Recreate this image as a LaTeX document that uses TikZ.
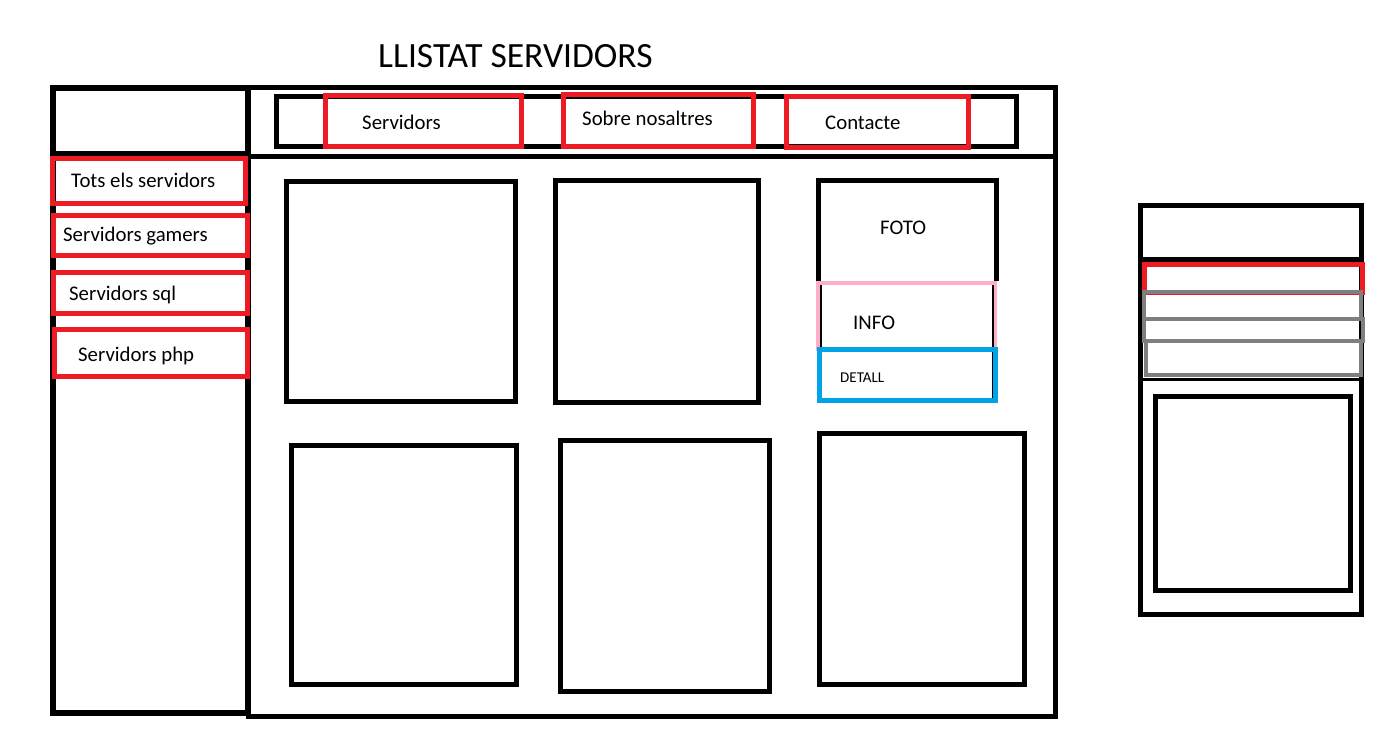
\documentclass[tikz,border=0pt]{standalone}
\usepackage{fontspec}
\setmainfont{Carlito}
\usetikzlibrary{positioning}
\definecolor{paintred}{HTML}{ED1C24}
\definecolor{paintpink}{HTML}{FFAEC9}
\definecolor{paintblue}{HTML}{00A2E8}
\definecolor{paintgray}{HTML}{7F7F7F}
\tikzset{
    frame/.style={draw=black, line width=5pt},
    redbox/.style={draw=paintred, line width=5pt},
    graybox/.style={draw=paintgray, line width=4.5pt},
    label/.style={
        inner sep=0pt,
        anchor=base west,
        font=\fontsize{20.8}{25}\selectfont
    }
}
\begin{document}
\begin{tikzpicture}[x=1pt, y=-1pt,
            big label/.style={label, font=\fontsize{35.5}{42}\selectfont},
            small label/.style={label, font=\fontsize{15}{18}\selectfont}]
                \useasboundingbox (0,0) rectangle (1399,749);
                \fill[white] (0,0) rectangle (1399,749);

                \node[big label] (title) at (378,68) {LLISTAT SERVIDORS};

                % main page
                \draw[frame] (248,88) rectangle (1055,716);
                \draw[frame] (248,156) -- (1055,156);
                \draw[frame] (276,97) rectangle (1016,146);
                \draw[redbox] (325,96) rectangle (521,146);
                \draw[redbox] (563,95) rectangle (753,146);
                \draw[redbox] (786,97) rectangle (968,147);
                \node[label] (nav1) at (362,129) {Servidors};
                \node[label] (nav2) at (582,125) {Sobre nosaltres};
                \node[label] (nav3) at (825,130) {Contacte};

                % side menu
                \draw[frame, line width=6.5pt] (53,88) rectangle (248,713);
                \draw[frame] (53,153) -- (248,153);
                \draw[redbox] (52,158) rectangle (245,203);
                \draw[redbox] (53,215) rectangle (247,255);
                \draw[redbox] (53,272) rectangle (247,313);
                \draw[redbox] (54,329) rectangle (247,376);
                \node[label] (side1) at (71,187) {Tots els servidors};
                \node[label] (side2) at (63,241) {Servidors gamers};
                \node[label] (side3) at (69,300) {Servidors sql};
                \node[label] (side4) at (78,361) {Servidors php};

                % cards
                \draw[frame] (286,181) rectangle (515,401);
                \draw[frame] (555,180) rectangle (758,402);
                \draw[frame] (291,445) rectangle (516,684);
                \draw[frame] (560,440) rectangle (769,691);
                \draw[frame] (819,433) rectangle (1024,684);

                \draw[frame] (818,281) -- (818,180) -- (996,180) -- (996,281);
                \draw[draw=paintpink, line width=4.5pt] (818,283) rectangle (995,349);
                \draw[black, line width=1.5pt] (821,285) -- (821,398) (993,285) -- (993,398);
                \draw[draw=paintblue, line width=5pt] (819,349) rectangle (995,400);
                \node[label] (foto) at (880,234) {FOTO};
                \node[label] (info) at (853,329) {INFO};
                \node[small label] (detall) at (840,382) {DETALL};

                % mobile view
                \draw[frame] (1140,205) rectangle (1361,614);
                \draw[frame] (1140,259) -- (1361,259);
                \draw[black, line width=3pt] (1140,379) -- (1361,379);
                \draw[redbox] (1144,264) rectangle (1362,292);
                \draw[graybox] (1144,292) rectangle (1361,319);
                \draw[graybox] (1144,319) rectangle (1363,341);
                \draw[graybox] (1146,341) rectangle (1361,375);
                \draw[frame] (1155,396) rectangle (1350,590);
\end{tikzpicture}
\end{document}
